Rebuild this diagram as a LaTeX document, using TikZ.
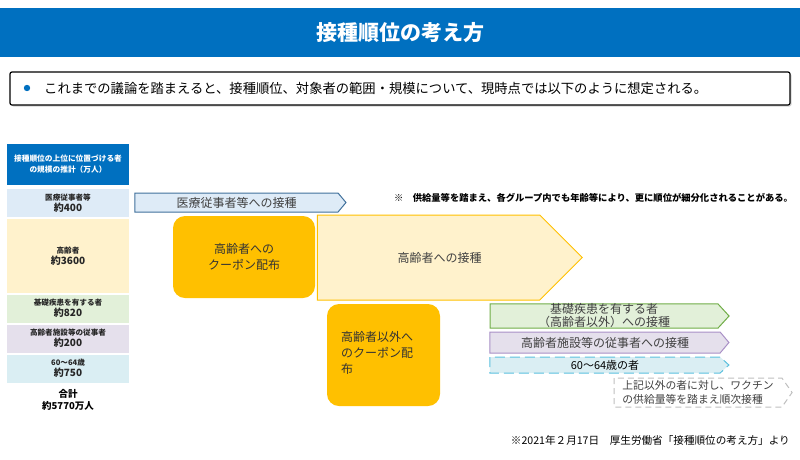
\documentclass[tikz,border=0pt]{standalone}
\usepackage{fontspec}
\setmainfont{Noto Sans CJK JP}
\definecolor{titleblue}{RGB}{0,112,192}
\definecolor{medblue}{RGB}{222,235,247}
\definecolor{medline}{RGB}{65,113,156}
\definecolor{eldyellow}{RGB}{255,242,204}
\definecolor{couponorange}{RGB}{255,192,0}
\definecolor{basegreen}{RGB}{226,240,217}
\definecolor{baseline}{RGB}{112,173,71}
\definecolor{facpurple}{RGB}{229,224,236}
\definecolor{facline}{RGB}{169,144,198}
\definecolor{agecyan}{RGB}{218,238,243}
\definecolor{ageline}{RGB}{91,192,222}
\definecolor{textgray}{RGB}{64,64,64}
\usetikzlibrary{positioning, shapes.symbols, shadows}
\newcommand{\numsize}{\fontsize{10}{12}\selectfont}

\begin{document}
\begin{tikzpicture}[x=1pt, y=-1pt,
    rowbox/.style={minimum width=122pt, minimum height=#1, inner sep=0pt,
      align=center, text=black!85, font=\fontsize{7.6}{11}\selectfont\bfseries},
    coupon/.style={fill=couponorange, rounded corners=12pt, inner sep=0pt,
      text=black!80, font=\fontsize{12}{16}\selectfont},
    jab/.style={signal, signal to=east, draw=#1, line width=1pt, inner sep=0pt,
      text=textgray, font=\fontsize{12}{13}\selectfont, align=center},
  ]
    \useasboundingbox (0,0) rectangle (800,459);

    % title bar
    \node[fill=titleblue, minimum width=800pt, minimum height=49pt, inner sep=0pt,
      text=white, font=\fontsize{21}{24}\selectfont\bfseries] (title) at (400,32.5) {接種順位の考え方};

    \node[draw=black, line width=1.2pt, rounded corners=2pt, fill=white,
      drop shadow={shadow xshift=1.5pt, shadow yshift=-1.5pt, opacity=0.35},
      minimum width=780pt, minimum height=33pt, inner sep=0pt] (summary) at (400,88.5) {};
    \fill[titleblue] (27,88) circle (3.2pt);
    \node[anchor=west, inner sep=0pt, font=\fontsize{13.3}{15}\selectfont] (summarytext) at (44,88)
      {これまでの議論を踏まえると、接種順位、対象者の範囲・規模について、現時点では以下のように想定される。};

    % left column
    \node[fill=titleblue, minimum width=122pt, minimum height=41pt, inner sep=0pt, align=center,
      text=white, font=\fontsize{7.7}{11}\selectfont\bfseries] (head) at (68,164.5)
      {接種順位の上位に位置づける者\\の規模の推計（万人）};
    \node[rowbox=28pt, fill=medblue] (rowmed) at (68,203) {医療従事者等\\{\numsize 約400}};
    \node[rowbox=74pt, fill=eldyellow] (roweld) at (68,256) {高齢者\\{\numsize 約3600}};
    \node[rowbox=28pt, fill=basegreen] (rowbase) at (68,308.5) {基礎疾患を有する者\\{\numsize 約820}};
    \node[rowbox=28pt, fill=facpurple] (rowfac) at (68,338.5) {高齢者施設等の従事者\\{\numsize 約200}};
    \node[rowbox=28pt, fill=agecyan] (rowage) at (68,368.5) {60～64歳\\{\numsize 約750}};
    \node[align=center, inner sep=0pt, font=\fontsize{9.5}{12}\selectfont\bfseries] (total) at (68,400)
      {合計\\約5770万人};

    % vaccination order
    \node[jab=medline, fill=medblue, minimum width=211pt, minimum height=19pt,
      signal pointer angle=100] (jabmed) at (236.5,202.5) {医療従事者等への接種};
    \node[anchor=west, inner sep=0pt, font=\fontsize{9.3}{10}\selectfont\bfseries] (note) at (394,198)
      {※　供給量等を踏まえ、各グループ内でも年齢等により、更に順位が細分化されることがある。};

    \node[coupon, minimum width=142pt, minimum height=82pt, align=center] (coupon1) at (244,257)
      {高齢者への\\クーポン配布};
    \node[jab=couponorange, fill=eldyellow, minimum width=265pt, minimum height=85pt,
      signal pointer angle=90,
      label={[xshift=11pt, text=textgray, font=\fontsize{12}{13}\selectfont]center:高齢者への接種}]
      (jabeld) at (428.5,257.5) {};

    \node[coupon, minimum width=113pt, minimum height=102pt] (coupon2) at (383.5,355) {};
    \node[anchor=north west, inner sep=0pt, align=left, text=black!80,
      font=\fontsize{12}{16}\selectfont] (coupon2text) at (341,331)
      {高齢者以外へ\\のクーポン配\\布};

    \node[jab=baseline, fill=basegreen, minimum width=239pt, minimum height=24pt,
      signal pointer angle=95] (jabbase) at (604,316) {基礎疾患を有する者\\（高齢者以外）への接種};
    \node[jab=facline, fill=facpurple, minimum width=239pt, minimum height=21pt,
      signal pointer angle=100] (jabfac) at (605,342.5) {高齢者施設等の従事者への接種};
    \node[jab=ageline, fill=agecyan, dash pattern=on 10pt off 5pt, minimum width=239pt,
      minimum height=16pt, signal pointer angle=85, text=black,
      font=\fontsize{11}{12}\selectfont] (jabage) at (605,365) {60～64歳の者};
    \node[jab=black!25, fill=white, dash pattern=on 6pt off 4pt, minimum width=178pt,
      minimum height=29pt, signal pointer angle=110, align=left,
      font=\fontsize{10.8}{13.5}\selectfont] (jabrest) at (698,392.5)
      {上記以外の者に対し、ワクチン\\の供給量等を踏まえ順次接種};

    \node[anchor=east, inner sep=0pt, font=\fontsize{10.6}{12}\selectfont] (source) at (790,440)
      {※2021年２月17日　厚生労働省「接種順位の考え方」より};
  \end{tikzpicture}
\end{document}
